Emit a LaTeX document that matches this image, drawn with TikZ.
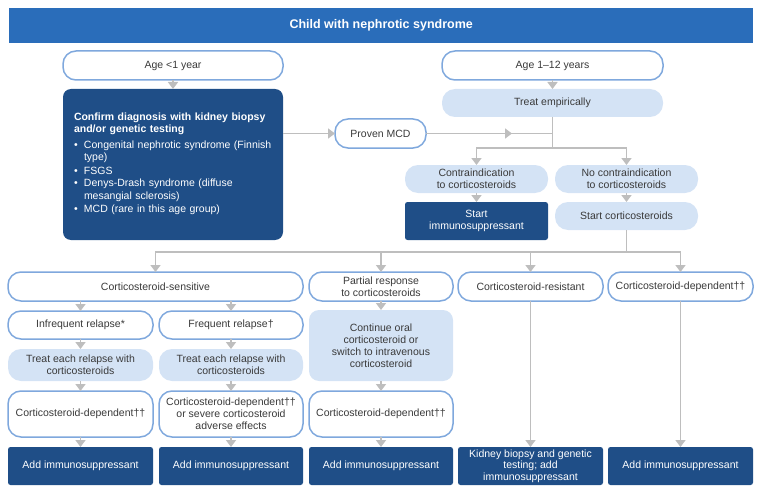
\documentclass[tikz,border=0pt]{standalone}
\usepackage{fontspec}
\setmainfont{Liberation Sans}
\usetikzlibrary{arrows.meta,positioning,decorations.markings}

\definecolor{titleblue}{HTML}{2A6DBA}
\definecolor{darkblue}{HTML}{1F4E87}
\definecolor{paleblue}{HTML}{D4E3F5}
\definecolor{edgeblue}{HTML}{7FA8DD}
\definecolor{linegrey}{HTML}{BEBEBE}
\definecolor{textgrey}{HTML}{3A3A3A}

\newcommand{\bitem}[1]{\par\noindent\makebox[10pt][l]{\textbullet}\begin{tabular}[t]{@{}l@{}}#1\end{tabular}}

\tikzset{
  plainbox/.style={rectangle, inner sep=2pt, outer sep=0pt, align=center, text=textgrey,
    font=\fontsize{10.5}{12}\selectfont},
  pill/.style={plainbox, draw=edgeblue, line width=1.5pt, fill=white, rounded corners=13pt},
  palebox/.style={plainbox, fill=paleblue, rounded corners=13pt},
  darkbox/.style={plainbox, fill=darkblue, text=white, rounded corners=2.5pt},
  wire/.style={draw=linegrey, line width=1.5pt},
  arr/.style={wire, -{Triangle[width=10pt,length=7pt]}},
}

\begin{document}
\begin{tikzpicture}[x=1pt,y=-1pt,node distance=10pt]
	\useasboundingbox (0,0) rectangle (760,492);

	% top
	\node[fill=titleblue, text=white, font=\bfseries\fontsize{12.5}{14}\selectfont,
		minimum width=744pt, minimum height=35pt, anchor=north west] (title) at (9,8) {Child with nephrotic syndrome};

	\node[pill, minimum width=220pt, minimum height=29pt, anchor=north west] (age1) at (63,51) {Age <1 year};
	\node[darkbox, rounded corners=8pt, align=left, inner sep=11pt, text width=198pt, minimum height=151pt,
		font=\fontsize{10.5}{12.5}\selectfont] (confirm) [below=9pt of age1]
		{{\bfseries Confirm diagnosis with kidney biopsy\\and/or genetic testing}\par\vspace{3pt}
		\bitem{Congenital nephrotic syndrome (Finnish\\type)}
		\bitem{FSGS}
		\bitem{Denys-Drash syndrome (diffuse\\mesangial sclerosis)}
		\bitem{MCD (rare in this age group)}};
	\node[pill, minimum width=91pt, minimum height=29pt, anchor=north west] (proven) at (335,119) {Proven MCD};

	\node[pill, minimum width=221pt, minimum height=29pt, anchor=north west] (age2) at (442,51) {Age 1--12 years};
	\node[palebox, minimum width=221pt, minimum height=28pt] (treat) [below=9pt of age2] {Treat empirically};
	\node[palebox, minimum width=143pt, minimum height=28pt, anchor=north west] (contra) at (405,165) {Contraindication\\to corticosteroids};
	\node[palebox, minimum width=143pt, minimum height=28pt, anchor=north west] (nocontra) at (555,165) {No contraindication\\to corticosteroids};
	\node[darkbox, minimum width=143pt, minimum height=38pt] (startimm) [below=9pt of contra] {Start\\immunosuppressant};
	\node[palebox, minimum width=143pt, minimum height=28pt] (startcort) [below=9pt of nocontra] {Start corticosteroids};

	% response row
	\node[pill, minimum width=295pt, minimum height=29pt, anchor=north west] (sens) at (8,272) {Corticosteroid-sensitive};
	\node[pill, minimum width=144pt, minimum height=29pt, anchor=north west] (partial) at (309,272) {Partial response\\to corticosteroids};
	\node[pill, minimum width=145pt, minimum height=29pt, anchor=north west] (resist) at (458,272) {Corticosteroid-resistant};
	\node[pill, minimum width=145pt, minimum height=29pt, anchor=north west] (depend) at (608,272) {Corticosteroid-dependent††};

	\node[pill, minimum width=145pt, minimum height=28pt, anchor=north west] (infreq) at (8,311) {Infrequent relapse*};
	\node[palebox, minimum width=145pt, minimum height=32pt] (treatA) [below=of infreq] {Treat each relapse with\\corticosteroids};
	\node[pill, minimum width=145pt, minimum height=46pt] (depA) [below=of treatA] {Corticosteroid-dependent††};
	\node[darkbox, minimum width=145pt, minimum height=38pt] (addA) [below=of depA] {Add immunosuppressant};

	\node[pill, minimum width=144pt, minimum height=28pt, anchor=north west] (freq) at (159,311) {Frequent relapse†};
	\node[palebox, minimum width=144pt, minimum height=32pt] (treatB) [below=of freq] {Treat each relapse with\\corticosteroids};
	\node[pill, minimum width=144pt, minimum height=46pt] (depB) [below=of treatB] {Corticosteroid-dependent††\\or severe corticosteroid\\adverse effects};
	\node[darkbox, minimum width=144pt, minimum height=38pt] (addB) [below=of depB] {Add immunosuppressant};

	\node[palebox, rounded corners=10pt, minimum width=144pt, minimum height=71pt] (cont) [below=9pt of partial] {Continue oral\\corticosteroid or\\switch to intravenous\\corticosteroid};
	\node[pill, minimum width=144pt, minimum height=46pt] (depC) [below=of cont] {Corticosteroid-dependent††};
	\node[darkbox, minimum width=144pt, minimum height=38pt] (addC) [below=of depC] {Add immunosuppressant};

	\node[darkbox, inner sep=1pt, minimum width=145pt, minimum height=38pt, anchor=north west,
		font=\fontsize{10.5}{11.5}\selectfont] (kidney) at (458,447) {Kidney biopsy and genetic\\testing; add\\immunosuppressant};
	\node[darkbox, minimum width=145pt, minimum height=38pt, anchor=north west] (addE) at (608,447) {Add immunosuppressant};

	\coordinate (fork1) at (treat.south |- 0,148);
	\coordinate (fork2) at (startcort.south |- 0,252);

	% connectors
	\draw[arr] (age1) -- (confirm);
	\draw[arr] (confirm.east |- proven) -- (proven);
	\draw[arr] (age2) -- (treat);
	\draw[wire] (treat) -- (fork1);
	\draw[wire, postaction={decorate}, decoration={markings, mark=at position 0.68 with {\arrow{Triangle[width=10pt,length=7pt]}}}]
		(proven) -- (proven -| fork1);
	\draw[arr] (fork1) -| (contra);
	\draw[arr] (fork1) -| (nocontra);
	\draw[arr] (contra) -- (startimm);
	\draw[arr] (nocontra) -- (startcort);

	\draw[wire] (startcort) -- (fork2);
	\draw[arr] (fork2) -| (sens);
	\draw[arr] (fork2) -| (partial);
	\draw[arr] (fork2) -| (resist);
	\draw[arr] (fork2) -| (depend);

	\draw[arr] (sens.south -| infreq) -- (infreq);
	\draw[arr] (sens.south -| freq) -- (freq);
	\draw[arr] (infreq) -- (treatA);
	\draw[arr] (treatA) -- (depA);
	\draw[arr] (depA) -- (addA);
	\draw[arr] (freq) -- (treatB);
	\draw[arr] (treatB) -- (depB);
	\draw[arr] (depB) -- (addB);
	\draw[arr] (partial) -- (cont);
	\draw[arr] (cont) -- (depC);
	\draw[arr] (depC) -- (addC);
	\draw[arr] (resist) -- (kidney);
	\draw[arr] (depend) -- (addE);
\end{tikzpicture}
\end{document}
